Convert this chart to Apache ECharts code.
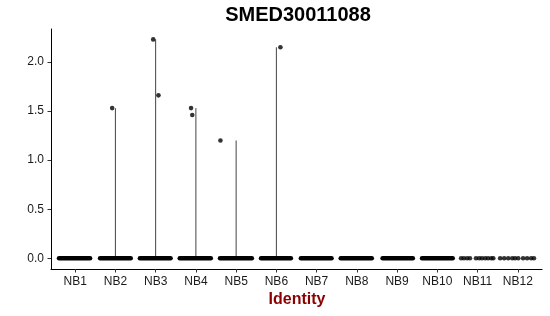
<!DOCTYPE html>
<html>
<head>
<meta charset="utf-8">
<script src="https://cdn.jsdelivr.net/npm/echarts@6/dist/echarts.min.js"></script>
<style>html,body{margin:0;padding:0;background:#fff}#c{width:550px;height:316px}</style>
</head>
<body>
<div id="c"></div>
<script>
const titleText = 'SMED30011088';
const xTitle = 'Identity';
const clusters = ['NB1','NB2','NB3','NB4','NB5','NB6','NB7','NB8','NB9','NB10','NB11','NB12'];
const yTicks = [0, 0.5, 1, 1.5, 2];
// violin extent (max expression) per cluster
const violinMax = [0, 1.53, 2.23, 1.53, 1.20, 2.15, 0, 0, 0, 0, 0, 0];
// dense zero-valued jittered points: left/right jitter extent per cluster (NB1..NB10)
const zeroBandLeft  = [-0.40, -0.38, -0.39, -0.40, -0.40, -0.38, -0.39, -0.40, -0.36, -0.38];
const zeroBandRight = [ 0.37,  0.38,  0.37,  0.37,  0.39,  0.36,  0.37,  0.37,  0.39,  0.38];
// sparse zero-valued points (jitter offsets)
const zeroJitterNB11 = [-0.41, -0.34, -0.26, -0.19, -0.04, 0.04, 0.11, 0.19, 0.26, 0.34, 0.39];
const zeroJitterNB12 = [-0.44, -0.34, -0.24, -0.14, -0.07, 0.01, 0.13, 0.23, 0.33, 0.40];
// non-zero points
const pointCluster = [2, 3, 3, 4, 4, 5, 6];
const pointJitter  = [-0.08, -0.06, 0.07, -0.12, -0.09, -0.39, 0.10];
const pointValue   = [1.53, 2.23, 1.66, 1.53, 1.46, 1.20, 2.15];

const FONT = '"Liberation Sans", Arial, Helvetica, sans-serif';
const POINT = 4.6;

const violinData = [];
violinMax.forEach((m, i) => { if (m > 0) violinData.push([i + 1, m]); });
const bandData = zeroBandLeft.map((l, i) => [i + 1, l, zeroBandRight[i]]);
const dotData = [];
zeroJitterNB11.forEach(j => dotData.push([11 + j, 0]));
zeroJitterNB12.forEach(j => dotData.push([12 + j, 0]));
pointCluster.forEach((c, i) => dotData.push([c + pointJitter[i], pointValue[i]]));

const chart = echarts.init(document.getElementById('c'), null, {renderer: 'canvas'});
chart.setOption({
  animation: false,
  backgroundColor: '#ffffff',
  textStyle: {fontFamily: FONT},
  grid: {left: 51, right: 8, top: 29, bottom: 47, containLabel: false},
  xAxis: {
    type: 'value', min: 0.4, max: 12.6,
    splitLine: {show: false},
    axisLine: {show: true, onZero: false, lineStyle: {color: '#000', width: 1}},
    axisTick: {show: true, length: 3.5, customValues: clusters.map((c, i) => i + 1), lineStyle: {color: '#333', width: 1}},
    axisLabel: {
      customValues: clusters.map((c, i) => i + 1),
      formatter: v => clusters[Math.round(v) - 1] || '',
      color: '#1a1a1a', fontSize: 12, margin: 7, fontFamily: FONT
    }
  },
  yAxis: {
    type: 'value', min: -0.109, max: 2.336,
    splitLine: {show: false},
    axisLine: {show: true, onZero: false, lineStyle: {color: '#000', width: 1}},
    axisTick: {show: true, length: 3.5, customValues: yTicks, lineStyle: {color: '#333', width: 1}},
    axisLabel: {
      customValues: yTicks,
      formatter: v => v.toFixed(1),
      color: '#1a1a1a', fontSize: 12, margin: 7, fontFamily: FONT
    }
  },
  graphic: [
    {type: 'text', x: 298, y: 15, style: {text: titleText, font: 'bold 20px ' + FONT, fill: '#000', align: 'center', verticalAlign: 'middle'}},
    {type: 'text', x: 297, y: 300, style: {text: xTitle, font: 'bold 16px ' + FONT, fill: '#8b0000', align: 'center', verticalAlign: 'middle'}}
  ],
  series: [
    {
      type: 'custom', data: violinData, z: 2, silent: true,
      renderItem: (params, api) => {
        const p0 = api.coord([api.value(0), 0]);
        const p1 = api.coord([api.value(0), api.value(1)]);
        return {type: 'line', shape: {x1: p0[0], y1: p0[1], x2: p1[0], y2: p1[1]}, style: {stroke: '#444', lineWidth: 1}};
      }
    },
    {
      type: 'custom', data: bandData, z: 3, silent: true,
      renderItem: (params, api) => {
        const c = api.value(0);
        const p0 = api.coord([c + api.value(1), 0]);
        const p1 = api.coord([c + api.value(2), 0]);
        return {type: 'line', shape: {x1: p0[0], y1: p0[1], x2: p1[0], y2: p1[1]}, style: {stroke: '#000', lineWidth: POINT, lineCap: 'round'}};
      }
    },
    {
      type: 'scatter', data: dotData, z: 4, silent: true,
      symbol: 'circle', symbolSize: POINT,
      itemStyle: {color: '#000'}
    }
  ]
});
</script>
</body>
</html>
